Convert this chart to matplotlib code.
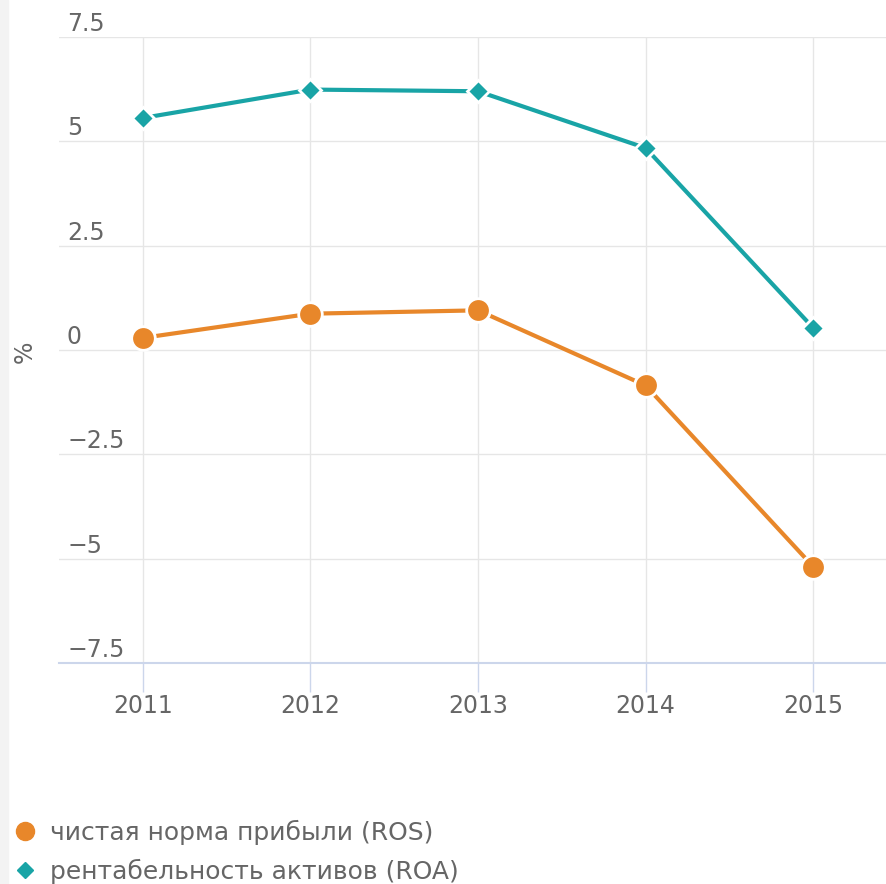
import numpy as np
import matplotlib.pyplot as plt
from matplotlib.patches import Rectangle
from matplotlib.lines import Line2D

plt.rcParams['font.family'] = ['DejaVu Sans']

years = ['2011', '2012', '2013', '2014', '2015']
ros = [0.29, 0.87, 0.95, -0.85, -5.19]
roa = [5.56, 6.24, 6.20, 4.84, 0.53]
yticks = [-7.5, -5, -2.5, 0, 2.5, 5, 7.5]
ytick_labels = ['−7.5', '−5', '−2.5', '0', '2.5', '5', '7.5']
ros_name = 'чистая норма прибыли (ROS)'
roa_name = 'рентабельность активов (ROA)'

c_ros = '#e8872a'
c_roa = '#19a4a6'
c_text = '#666666'
c_grid = '#e6e6e6'
c_axis = '#ccd6eb'

W, H = 886, 884
fig = plt.figure(figsize=(W / 100, H / 100), dpi=100)
fig.patches.append(Rectangle((0, 0), 8 / W, 1, transform=fig.transFigure,
                             color='#f3f3f3', zorder=0))

# plot area in pixels
left, right, top, bottom = 59, 897, 37, 663
ax = fig.add_axes([left / W, 1 - bottom / H, (right - left) / W, (bottom - top) / H])
ax.set_xlim(-0.5, 4.5)
ax.set_ylim(-7.5, 7.5)

x = np.arange(len(years))
for y in yticks:
    if y != -7.5:
        ax.axhline(y, color=c_grid, lw=1, zorder=1)
for xi in x:
    ax.axvline(xi, color=c_grid, lw=1, zorder=1)

ax.plot(x, ros, color=c_ros, lw=3, marker='o', ms=17, mfc=c_ros,
        mec='white', mew=2, zorder=3, clip_on=False)
ax.plot(x, roa, color=c_roa, lw=3, marker='D', ms=11, mfc=c_roa,
        mec='white', mew=2, zorder=4, clip_on=False)

for s in ['top', 'right', 'left']:
    ax.spines[s].set_visible(False)
ax.spines['bottom'].set_color(c_axis)
ax.spines['bottom'].set_linewidth(1.5)

ax.set_yticks([])
ax.set_xticks(x)
ax.set_xticklabels(years)
ax.tick_params(axis='x', length=21, width=1, color=c_axis, pad=1,
               labelsize=17, labelcolor=c_text)

for y, lab in zip(yticks, ytick_labels):
    ax.annotate(lab, xy=(0, y), xycoords=('axes fraction', 'data'),
                xytext=(8, 6), textcoords='offset pixels',
                ha='left', va='baseline', fontsize=17, color=c_text)

fig.text(25 / W, 1 - 352 / H, '%', rotation=90, ha='center', va='center',
         fontsize=17, color=c_text)

# legend
h1 = Line2D([], [], color=c_ros, marker='o', ls='none', ms=13)
h2 = Line2D([], [], color=c_roa, marker='D', ls='none', ms=8)
fig.legend([h1, h2], [ros_name, roa_name], loc='upper left',
           bbox_to_anchor=(-8 / W, 1 - 800 / H), frameon=False,
           fontsize=18, labelcolor=c_text, handlelength=1.0,
           handletextpad=0.5, labelspacing=0.55, borderpad=0.3)

fig.savefig('out.png', dpi=100)
